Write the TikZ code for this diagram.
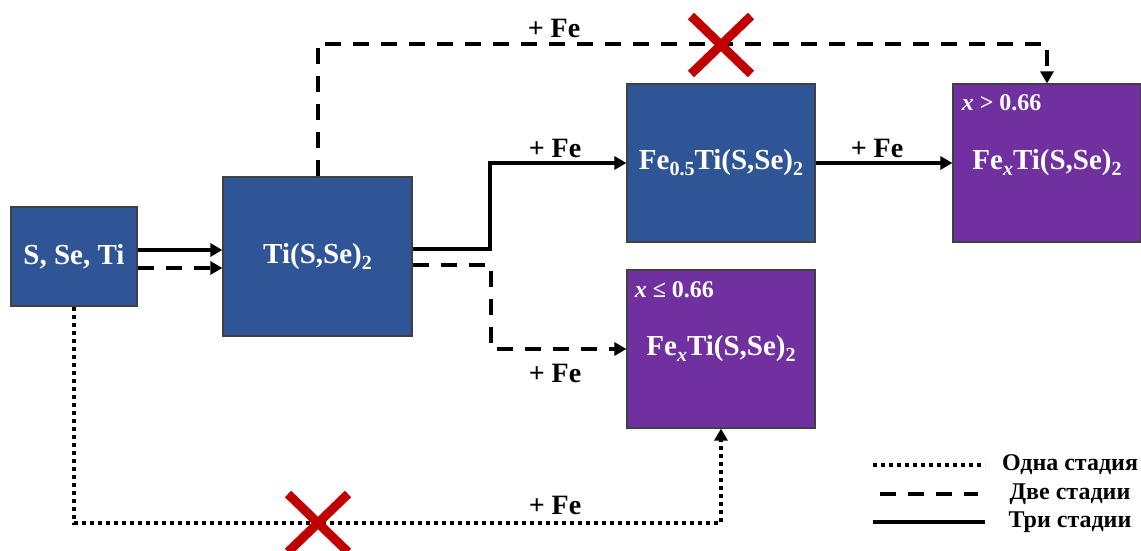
\documentclass[tikz,border=0pt]{standalone}
\usepackage{fontspec}
\setmainfont{Liberation Serif}
\usepackage{tikz}
\usetikzlibrary{arrows.meta,calc,positioning}
\definecolor{boxblue}{HTML}{2F5597}
\definecolor{boxpurple}{HTML}{7030A0}
\definecolor{crossred}{HTML}{C00000}
\newcommand{\lowidx}[1]{\raisebox{-0.45ex}{\fontsize{10}{10}\selectfont #1}}

\begin{document}
\begin{tikzpicture}[x=0.5pt,y=-0.5pt,>={Triangle[length=6pt,width=6.5pt]},
  stage/.style={draw=black!75,line width=0.6pt,text=white,inner sep=0pt,
    font=\fontsize{14.5}{16}\selectfont\bfseries},
  blue box/.style={stage,fill=boxblue},
  purple box/.style={stage,fill=boxpurple},
  three/.style={line width=2pt},
  two/.style={line width=2pt,dash pattern=on 8pt off 6pt},
  one/.style={line width=2pt,dash pattern=on 2pt off 2pt},
  fe/.style={font=\fontsize{14}{16}\selectfont\bfseries},
  cond/.style={text=white,anchor=north west,inner sep=0pt,
    font=\fontsize{12}{14}\selectfont\bfseries},
  cross/.style={crossred,line width=4.5pt},
  legend/.style={font=\fontsize{12}{14}\selectfont\bfseries}]

\useasboundingbox (0,0) rectangle (1141,551);

% stages
\node[blue box,minimum width=63pt,minimum height=49.5pt] (elem) at (74,256.5) {S, Se, Ti};
\node[blue box,minimum width=94.5pt,minimum height=79.5pt] (host) at (317.5,256.5) {Ti(S,Se)\lowidx{2}};
\node[blue box,minimum width=94pt,minimum height=79pt] (half) at (721,163) {Fe\lowidx{0.5}Ti(S,Se)\lowidx{2}};
\node[purple box,minimum width=94pt,minimum height=79pt] (rich) at (1047,163) {Fe\lowidx{\textit{x}}Ti(S,Se)\lowidx{2}};
\node[purple box,minimum width=94pt,minimum height=79pt] (poor) at (721,349) {Fe\lowidx{\textit{x}}Ti(S,Se)\lowidx{2}};
\node[cond] (richc) at ($(rich.north west)+(9,11)$) {\textit{x} > 0.66};
\node[cond] (poorc) at ($(poor.north west)+(8,12)$) {\textit{x} ≤ 0.66};

% three stages
\draw[three,->] (elem.east |- 0,250) -- (host.west |- 0,250);
\draw[three,->] (host.east |- 0,249) -- (490,249) |- (half.west);
\draw[three,->] (half.east) -- (rich.west);

% two stages
\draw[two,->] (elem.east |- 0,268) -- (host.west |- 0,268);
\draw[two,->] (host.east |- 0,265) -- (491,265) |- (poor.west);
\draw[two,->] (host.north) -- (host.north |- 0,44) -| (rich.north);

% one stage
\draw[one,->] (elem.south) -- (elem.south |- 0,523) -| (poor.south);

% labels
\node[fe] (feTop) at (554,28) {+ Fe};
\node[fe] (feHalf) at (555,148) {+ Fe};
\node[fe] (fePoor) at (555,373) {+ Fe};
\node[fe] (feRich) at (877,148) {+ Fe};
\node[fe] (feOne) at (555,505) {+ Fe};

% forbidden routes
\draw[cross] (691,16) -- (751,74) (691,74) -- (751,16);
\draw[cross] (288,494) -- (348,552) (288,552) -- (348,494);

% legend
\node[legend] (lgOne) at (1070,465) {Одна стадия};
\node[legend] (lgTwo) at (1070,494) {Две стадии};
\node[legend] (lgThree) at (1070,522) {Три стадии};
\draw[one] (873,465) -- (985,465);
\draw[two] (880,494) -- (978,494);
\draw[three] (873,522) -- (985,522);
\end{tikzpicture}
\end{document}
